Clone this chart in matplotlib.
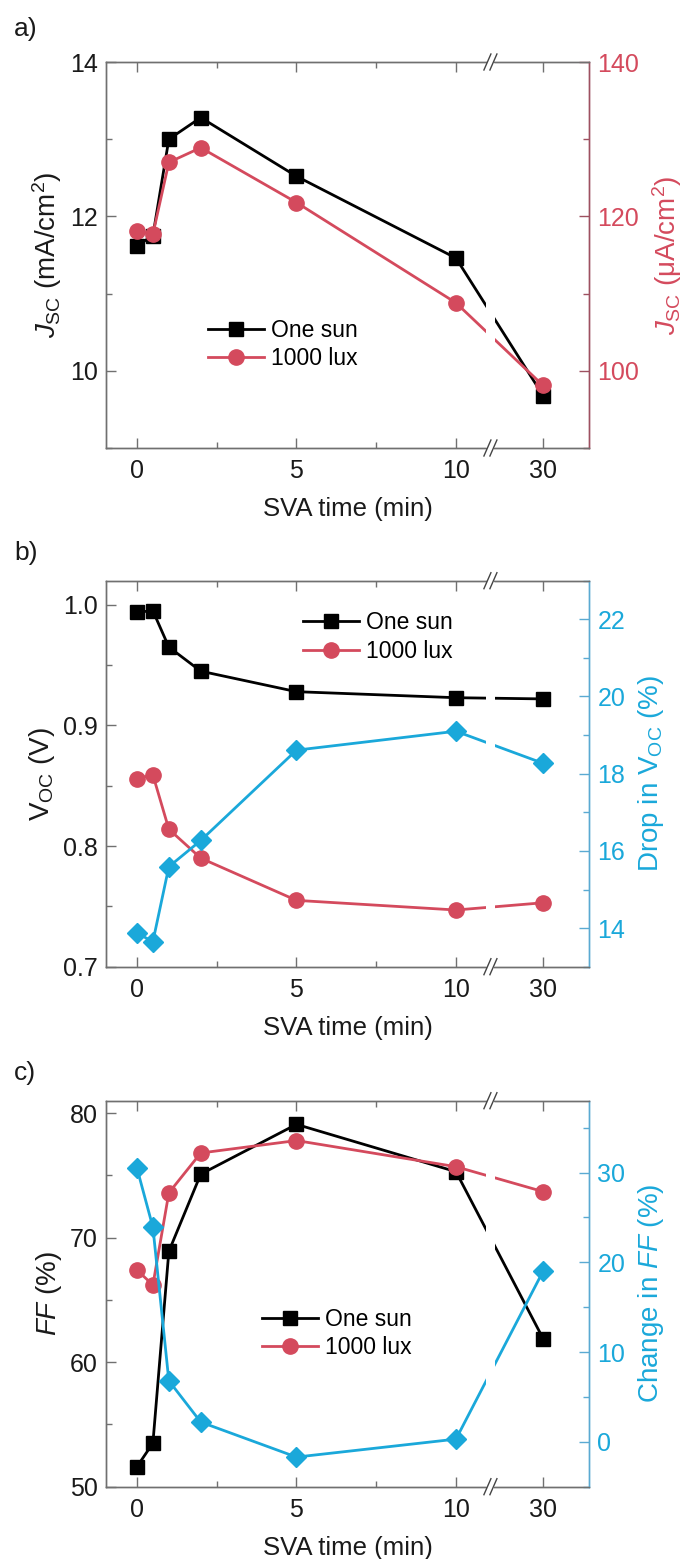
import numpy as np
import matplotlib
matplotlib.use("Agg")
import matplotlib.pyplot as plt
from matplotlib.ticker import MultipleLocator, FixedLocator

plt.rcParams['font.family'] = ['Liberation Sans', 'DejaVu Sans']
plt.rcParams['mathtext.fontset'] = 'custom'
plt.rcParams['mathtext.rm'] = 'Liberation Sans'
plt.rcParams['mathtext.it'] = 'Liberation Sans:italic'

# ---------------- data ----------------
sva_time = [0, 0.5, 1, 2, 5, 10, 30]
xtick_vals = [0, 5, 10, 30]
xtick_labels = ['0', '5', '10', '30']

jsc_one_sun = [11.62, 11.75, 13.00, 13.28, 12.52, 11.46, 9.68]      # mA/cm2
jsc_1000lux = [118.1, 117.7, 127.0, 128.9, 121.8, 108.8, 98.1]      # uA/cm2

voc_one_sun = [0.994, 0.995, 0.965, 0.945, 0.928, 0.923, 0.922]
voc_1000lux = [0.856, 0.859, 0.814, 0.790, 0.755, 0.747, 0.753]
voc_drop = [13.87, 13.65, 15.59, 16.27, 18.61, 19.10, 18.27]

ff_one_sun = [51.6, 53.5, 68.9, 75.1, 79.1, 75.3, 61.9]
ff_1000lux = [67.4, 66.2, 73.6, 76.8, 77.8, 75.7, 73.7]
ff_change = [30.5, 23.9, 6.8, 2.2, -1.7, 0.3, 19.0]

# ---------------- style ----------------
BLACK = '#000000'
RED = '#D44A5D'
BLUE = '#1AA8DA'
RED_SPINE = '#9E5060'
BLUE_SPINE = '#5AAAD2'
GREY = '#707070'
TXT = '#1a1a1a'

K = 2.73 / 20.0  # compression of the segment after the break


def fwd(x):
    x = np.asarray(x, dtype=float)
    return np.where(x <= 10, x, 10 + (x - 10) * K)


def inv(y):
    y = np.asarray(y, dtype=float)
    return np.where(y <= 10, y, 10 + (y - 10) / K)


XL = (-0.97, float(inv(14.17)))
BREAK = float(inv(11.08))
GAP = (float(inv(10.93)), float(inv(11.23)))

TICK_FS = 18
XLAB_FS = 18.5
YLAB_FS = 20
LEG_FS = 16.5
PANEL_FS = 19

fig = plt.figure(figsize=(6.91, 15.59), dpi=100)

W = 483 / 691
H = 386 / 1559
L = 106 / 691
bottoms = [1 - 448 / 1559, 1 - 966.7 / 1559, 1 - 1486.7 / 1559]


def setup(ax, ax2, rcol_spine):
    ax.set_xscale('function', functions=(fwd, inv))
    ax.set_xlim(*XL)
    ax.xaxis.set_major_locator(FixedLocator(xtick_vals))
    ax.xaxis.set_minor_locator(FixedLocator([2.5, 7.5]))
    ax.set_xticklabels(xtick_labels)
    ax.tick_params(axis='x', which='both', direction='in', top=True, bottom=True,
                   labelsize=TICK_FS, colors=GREY, labelcolor=TXT, pad=8)
    ax.tick_params(axis='y', which='both', direction='in', left=True, right=False,
                   labelsize=TICK_FS, colors=GREY, labelcolor=TXT, pad=6)
    ax.tick_params(which='major', length=7, width=1)
    ax.tick_params(which='minor', length=4, width=1)
    ax2.tick_params(axis='y', which='both', direction='in', labelsize=TICK_FS, pad=6)
    ax2.tick_params(which='major', length=7, width=1)
    ax2.tick_params(which='minor', length=4, width=1)
    for a in (ax, ax2):
        for s in ('left', 'top', 'bottom'):
            a.spines[s].set_color(GREY)
            a.spines[s].set_linewidth(1.0)
        a.spines['right'].set_color(rcol_spine)
        a.spines['right'].set_linewidth(1.0)
    ax.set_xlabel('SVA time (min)', fontsize=XLAB_FS, labelpad=10, color=TXT)
    # white gap in the data lines at the break
    ax2.axvspan(GAP[0], GAP[1], color='white', zorder=2.4, lw=0)
    # break marks on top and bottom spines
    tr = ax2.get_xaxis_transform()
    for yb in (0.0, 1.0):
        ax2.plot([GAP[0] + 0.3, GAP[1] - 0.3], [yb, yb], color='white', lw=3,
                 transform=tr, clip_on=False, zorder=6, solid_capstyle='butt')
    xb = float(fwd(BREAK))
    dx_pix = 3.5
    for yb in (0.0, 1.0):
        for off in (-3.0, 3.0):
            x0 = float(inv(xb + (off - dx_pix) / 31.9))
            x1 = float(inv(xb + (off + dx_pix) / 31.9))
            ax2.plot([x0, x1], [yb - 8 / 386, yb + 8 / 386], color='#444444', lw=1.0,
                     transform=tr, clip_on=False, zorder=7)


def legend(ax, handles, x, y):
    ax.legend(handles=handles, labels=['One sun', '1000 lux'], loc='center left',
              bbox_to_anchor=(x, y), frameon=False, fontsize=LEG_FS,
              handlelength=2.45, handletextpad=0.3, labelspacing=0.25,
              borderpad=0, borderaxespad=0, numpoints=1)


lw = 2.0
# ---------------- panel a ----------------
ax = fig.add_axes([L, bottoms[0], W, H])
ax2 = ax.twinx()
setup(ax, ax2, RED_SPINE)
l1, = ax.plot(sva_time, jsc_one_sun, '-s', color=BLACK, lw=lw, ms=10)
l2, = ax2.plot(sva_time, jsc_1000lux, '-o', color=RED, lw=lw, ms=11)
ax.set_ylim(9, 14)
ax.yaxis.set_major_locator(MultipleLocator(2))
ax.yaxis.set_minor_locator(MultipleLocator(1))
ax2.set_ylim(90, 140)
ax2.yaxis.set_major_locator(MultipleLocator(20))
ax2.yaxis.set_minor_locator(MultipleLocator(10))
ax2.tick_params(axis='y', which='both', colors=RED_SPINE, labelcolor=RED)
ax.set_ylabel(r'$J_{\rm SC}$ (mA/cm$^2$)', fontsize=YLAB_FS, labelpad=4, color=TXT)
ax2.set_ylabel(r'$J_{\rm SC}$ (μA/cm$^2$)', fontsize=YLAB_FS, labelpad=8, color=RED)
legend(ax2, [l1, l2], 0.211, 0.268)
fig.text(14 / 691, 1 - 29 / 1559, 'a)', fontsize=PANEL_FS, va='center', ha='left', color=TXT)

# ---------------- panel b ----------------
ax = fig.add_axes([L, bottoms[1], W, H])
ax2 = ax.twinx()
setup(ax, ax2, BLUE_SPINE)
l1, = ax.plot(sva_time, voc_one_sun, '-s', color=BLACK, lw=lw, ms=10)
l2, = ax.plot(sva_time, voc_1000lux, '-o', color=RED, lw=lw, ms=11)
ax2.plot(sva_time, voc_drop, '-D', color=BLUE, lw=lw, ms=10)
ax.set_ylim(0.7, 1.02)
ax.yaxis.set_major_locator(MultipleLocator(0.1))
ax.yaxis.set_minor_locator(MultipleLocator(0.05))
ax.yaxis.set_major_formatter(matplotlib.ticker.FormatStrFormatter('%.1f'))
ax2.set_ylim(13, 23)
ax2.yaxis.set_major_locator(MultipleLocator(2))
ax2.yaxis.set_minor_locator(MultipleLocator(1))
ax2.tick_params(axis='y', which='both', colors=BLUE_SPINE, labelcolor=BLUE)
ax.set_ylabel(r'V$_{\rm OC}$ (V)', fontsize=YLAB_FS, labelpad=4, color=TXT)
ax2.set_ylabel(r'Drop in V$_{\rm OC}$ (%)', fontsize=YLAB_FS, labelpad=8, color=BLUE)
legend(ax2, [l1, l2], 0.408, 0.854)
fig.text(14 / 691, 1 - 553 / 1559, 'b)', fontsize=PANEL_FS, va='center', ha='left', color=TXT)

# ---------------- panel c ----------------
ax = fig.add_axes([L, bottoms[2], W, H])
ax2 = ax.twinx()
setup(ax, ax2, BLUE_SPINE)
l1, = ax.plot(sva_time, ff_one_sun, '-s', color=BLACK, lw=lw, ms=10)
l2, = ax.plot(sva_time, ff_1000lux, '-o', color=RED, lw=lw, ms=11)
ax2.plot(sva_time, ff_change, '-D', color=BLUE, lw=lw, ms=10)
ax.set_ylim(50, 81)
ax.yaxis.set_major_locator(MultipleLocator(10))
ax.yaxis.set_minor_locator(MultipleLocator(5))
ax2.set_ylim(-5, 38)
ax2.yaxis.set_major_locator(MultipleLocator(10))
ax2.yaxis.set_minor_locator(MultipleLocator(5))
ax2.tick_params(axis='y', which='both', colors=BLUE_SPINE, labelcolor=BLUE)
ax.set_ylabel(r'$FF$ (%)', fontsize=YLAB_FS, labelpad=4, color=TXT)
ax2.set_ylabel(r'Change in $FF$ (%)', fontsize=YLAB_FS, labelpad=8, color=BLUE)
legend(ax2, [l1, l2], 0.323, 0.397)
fig.text(14 / 691, 1 - 1073 / 1559, 'c)', fontsize=PANEL_FS, va='center', ha='left', color=TXT)

fig.savefig('out.png', dpi=100)
